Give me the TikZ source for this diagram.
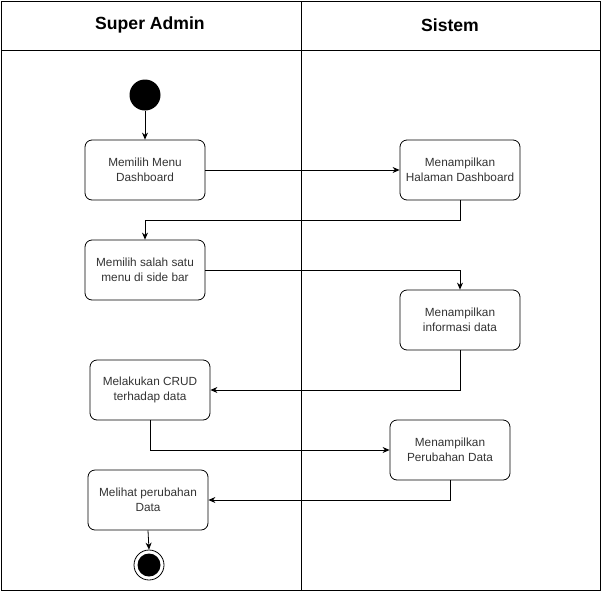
\documentclass[tikz,border=0pt]{standalone}
\usepackage{fontspec}
\setmainfont{Liberation Sans}
\usetikzlibrary{arrows.meta}
\begin{document}
\begin{tikzpicture}[x=1pt,y=-1pt,
  act/.style={draw,rounded corners=7pt,minimum width=120pt,minimum height=60pt,align=center,font=\fontsize{11.8}{15}\selectfont,text=black!80,line width=0.8pt},
  flow/.style={-{Stealth[length=7pt,width=6pt]},line width=0.8pt},
  hdr/.style={font=\bfseries\fontsize{17.6}{20}\selectfont}]
\useasboundingbox (0,0) rectangle (602,592);
\draw[line width=1pt] (1,1) rectangle (600,590);
\draw[line width=1pt] (1,50) -- (600,50);
\draw[line width=1pt] (301,1) -- (301,590);
\node[hdr] (h1) at (150,25) {Super Admin};
\node[hdr] (h2) at (450,25) {Sistem};
\node[circle,fill=black,minimum size=31pt,inner sep=0] (start) at (145,95) {};
\node[act] (a1) at (145,170) {Memilih Menu\\Dashboard};
\node[act] (a2) at (460,170) {Menampilkan\\Halaman Dashboard};
\node[act] (a3) at (145,270) {Memilih salah satu\\menu di side bar};
\node[act] (a4) at (460,320) {Menampilkan\\informasi data};
\node[act] (a5) at (150,390) {Melakukan CRUD\\terhadap data};
\node[act] (a6) at (450,450) {Menampilkan\\Perubahan Data};
\node[act] (a7) at (148,500) {Melihat perubahan\\Data};
\node[circle,draw,line width=0.8pt,minimum size=30pt,inner sep=0] (end) at (149,565) {};
\node[circle,fill=black,minimum size=23pt,inner sep=0] (endin) at (149,565) {};
\draw[flow] (start) -- (a1);
\draw[flow] (a1) -- (a2);
\draw[flow] (a2.south) |- (145,220) -- (a3.north);
\draw[flow] (a3.east) -| (a4.north);
\draw[flow] (a4.south) |- (a5.east);
\draw[flow] (a5.south) |- (a6.west);
\draw[flow] (a6.south) |- (a7.east);
\draw[flow] (a7.south) -- (end.north);
\end{tikzpicture}
\end{document}
